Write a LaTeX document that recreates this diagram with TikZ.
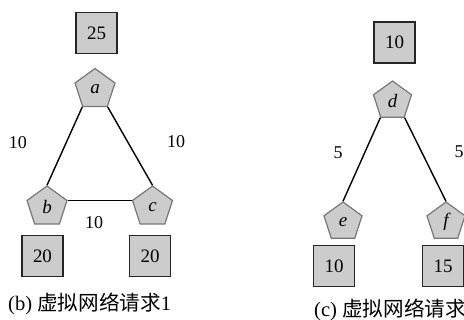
\documentclass[tikz,border=0pt]{standalone}
\usepackage{fontspec}
\setmainfont{Liberation Serif}
\newfontfamily\cjk{Noto Sans CJK SC}
\usetikzlibrary{shapes.geometric}
\definecolor{fillg}{HTML}{CCCCCC}
\definecolor{pentline}{HTML}{777777}
\tikzset{
  pent/.style={regular polygon, regular polygon sides=5, draw=pentline, fill=fillg, line width=1.2pt, inner sep=0pt, minimum size=#1, font=\fontsize{19}{19}\selectfont\itshape},
  pent/.default=42pt,
  valbox/.style={rectangle, draw=black!85, fill=fillg, line width=1.5pt, minimum size=41pt, inner sep=0pt, font=\fontsize{19}{19}\selectfont},
  link/.style={line width=1.4pt, black},
  wlabel/.style={font=\fontsize{18}{18}\selectfont, inner sep=0pt},
  caption/.style={font=\fontsize{20.6}{20.6}\selectfont, inner sep=0pt, anchor=west}
}
\begin{document}
\begin{tikzpicture}[x=1pt, y=-1pt]
\useasboundingbox (0,0) rectangle (464,320);
\clip (0,0) rectangle (464,320);
% left panel
\node[valbox] (ra) at (96.5,33) {25};
\node[pent] (a) at (95,89.5) {a};
\node[pent] (b) at (47,207) {b};
\node[pent] (c) at (152.5,207) {c};
\node[valbox] (rb) at (42.5,256) {20};
\node[valbox] (rc) at (150,256) {20};
\draw[link] (a.corner 3) -- (b.corner 1);
\draw[link] (a.corner 4) -- (c.corner 1);
\draw[link] (b.corner 5) -- (c.corner 2);
\node[wlabel] (lab) at (18,143) {10};
\node[wlabel] (lac) at (176,142) {10};
\node[wlabel] (lbc) at (94,223) {10};
\node[caption] (capb) at (8,304) {(b) {\cjk 虚拟网络请求}1};
% right panel
\node[valbox] (rd) at (394.5,42.5) {10};
\node[pent=40pt] (d) at (392.5,101) {d};
\node[pent=40pt] (e) at (343,222) {e};
\node[pent=40pt] (f) at (446,222) {f};
\node[valbox] (re) at (334,266) {10};
\node[valbox] (rf) at (443,266) {15};
\draw[link] (d.corner 3) -- (e.corner 1);
\draw[link] (d.corner 4) -- (f.corner 1);
\node[wlabel] (lde) at (338,153) {5};
\node[wlabel] (ldf) at (459,152) {5};
\node[caption] (capc) at (314,310) {(c) {\cjk 虚拟网络请求}2};
\end{tikzpicture}
\end{document}
